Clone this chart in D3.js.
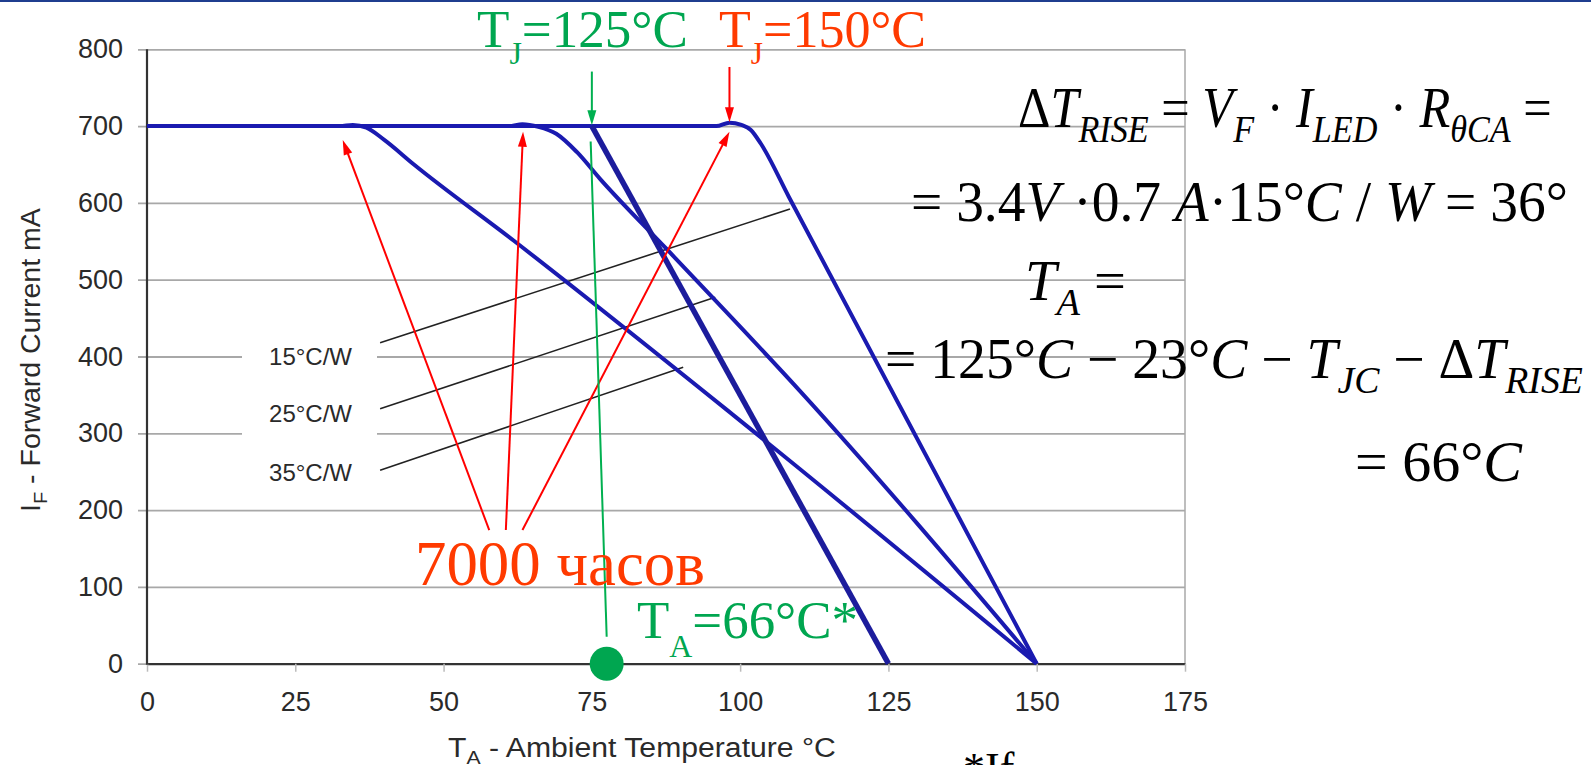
<!DOCTYPE html>
<html>
<head>
<meta charset="utf-8">
<script src="https://cdn.jsdelivr.net/npm/d3@7"></script>
<style>
  html, body { margin: 0; padding: 0; background: #fff; overflow: hidden; }
  svg { display: block; }
</style>
</head>
<body>
<script>
// derating curves, [ambient temperature °C, forward current mA]
const curveTj150R15 = [[0,700],[96,700],[98.2,704.5],[100.2,701.5],[101.8,695],[103.5,677],[108.2,608],[146,58],[150,0]];
const curveTj150R25 = [[0,700],[61,700],[63.3,702.5],[66,699],[69,690],[72.5,666],[76.3,632],[87.6,540],[110.1,355],[150,0]];
const curveTj150R35 = [[0,700],[32.5,700],[34.7,701.5],[37,698],[40,682],[45,650],[61.8,551],[98.8,324],[150,0]];
const curveTj125R15 = [[75,700],[125,0]];

const xTicks = [0, 25, 50, 75, 100, 125, 150, 175];
const yTicks = [0, 100, 200, 300, 400, 500, 600, 700, 800];

// thermal resistance labels + leader lines
const rthLabels = ["15°C/W", "25°C/W", "35°C/W"];
const rthLeaders = [
  [[39.3,418],[108.4,592]],
  [[39.3,332],[95.8,477]],
  [[39.3,252],[90.4,386]]
];

// annotation arrows (data coords)
const redArrows = [
  [[57.7,174],[33.0,682]],
  [[60.5,174],[63.4,692.7]],
  [[63.3,174],[98.2,692.7]],
  [[98.2,777],[98.2,705]]
];
const greenArrow = [[75.0,771],[75.0,701]];
const greenLine = [[74.8,680],[77.5,35]];
const operatingPoint = [77.5, 0];

const W = 1591, H = 765;
const sans = "'Liberation Sans', Arial, sans-serif";
const serif = "'Liberation Serif', 'Times New Roman', serif";
const GREEN = "#00a650", ORANGE = "#ff3a00";

const svg = d3.select("body").append("svg").attr("width", W).attr("height", H);

svg.append("rect").attr("x", 0).attr("y", 0).attr("width", W).attr("height", 2).attr("fill", "#1f3d8f");

const x = d3.scaleLinear().domain([0, 175]).range([147, 1185]);
const y = d3.scaleLinear().domain([0, 800]).range([663.7, 49.3]);

// gridlines + y labels
const yAxis = svg.append("g")
  .attr("transform", `translate(${x(175)},0)`)
  .call(d3.axisLeft(y).tickValues(yTicks).tickSize(x(175) - 138).tickPadding(15));
yAxis.select(".domain").remove();
yAxis.selectAll("line").attr("stroke", "#a8a8a8").attr("stroke-width", 1.8);
yAxis.selectAll("text").attr("font-family", sans).attr("font-size", 27).attr("fill", "#2a2a2a");

// right border
svg.append("line").attr("x1", x(175)).attr("x2", x(175)).attr("y1", y(800)).attr("y2", y(0))
  .attr("stroke", "#a8a8a8").attr("stroke-width", 1.5);

// x axis
const xAxis = svg.append("g")
  .attr("transform", `translate(0,${y(0)})`)
  .call(d3.axisBottom(x).tickValues(xTicks).tickSize(8).tickSizeOuter(0).tickPadding(20));
xAxis.select(".domain").attr("stroke", "#333").attr("stroke-width", 2.2);
xAxis.selectAll("line").attr("stroke", "#bbb").attr("stroke-width", 1.5);
xAxis.selectAll("text").attr("font-family", sans).attr("font-size", 27).attr("fill", "#2a2a2a");

// left axis line
svg.append("line").attr("x1", x(0)).attr("x2", x(0)).attr("y1", y(800)).attr("y2", y(0) + 1)
  .attr("stroke", "#333").attr("stroke-width", 2.2);

// text with sub-scripts, stretched to a target width
function richText(parts, o) {
  const g = svg.append("g");
  const t = g.append("text")
    .attr("font-family", o.family)
    .attr("font-size", o.size)
    .attr("fill", o.color)
    .style("white-space", "pre");
  let down = false;
  parts.forEach(p => {
    const s = t.append("tspan").text(p.t);
    if (p.it) s.attr("font-style", "italic");
    if (p.sub) {
      s.attr("font-size", o.subSize);
      if (!down) { s.attr("dy", o.subDy); down = true; }
    } else if (down) {
      s.attr("dy", -o.subDy); down = false;
    }
  });
  const w = t.node().getComputedTextLength();
  const sx = o.width ? o.width / w : 1;
  const rot = o.rotate ? ` rotate(${o.rotate})` : "";
  g.attr("transform", `translate(${o.x},${o.y})${rot} scale(${sx},1)`);
  return g;
}

// axis titles
richText([{t:"I"},{t:"F", sub:true},{t:" - Forward Current mA"}],
  {family: sans, size: 27, subSize: 19, subDy: 7, color: "#2a2a2a", x: 40, y: 512, width: 304, rotate: -90});
richText([{t:"T"},{t:"A", sub:true},{t:" - Ambient Temperature °C"}],
  {family: sans, size: 27, subSize: 19, subDy: 7, color: "#2a2a2a", x: 448, y: 757, width: 388});

// label box covering gridlines, labels, leader lines
svg.append("rect").attr("x", 242).attr("y", 335).attr("width", 135).attr("height", 157).attr("fill", "#fff");
svg.append("g").selectAll("text").data(rthLabels).join("text")
  .attr("x", 352)
  .attr("y", (d, i) => [365, 422, 481][i])
  .attr("text-anchor", "end")
  .attr("font-family", sans).attr("font-size", 24).attr("fill", "#2a2a2a")
  .text(d => d);
svg.append("g").selectAll("line").data(rthLeaders).join("line")
  .attr("x1", d => x(d[0][0])).attr("y1", d => y(d[0][1]))
  .attr("x2", d => x(d[1][0])).attr("y2", d => y(d[1][1]))
  .attr("stroke", "#222").attr("stroke-width", 1.6);

// derating curves
const line = d3.line().x(d => x(d[0])).y(d => y(d[1])).curve(d3.curveMonotoneX);
const curves = svg.append("g").attr("fill", "none").attr("stroke-linejoin", "round");
[curveTj150R35, curveTj150R25, curveTj150R15].forEach(c => {
  curves.append("path").attr("d", line(c)).attr("stroke", "#1a1ab0").attr("stroke-width", 4);
});
curves.append("path").attr("d", d3.line().x(d => x(d[0])).y(d => y(d[1]))(curveTj125R15))
  .attr("stroke", "#1c1c9c").attr("stroke-width", 5.5);

// annotations
const ann = svg.append("g");
function arrow(a, b, color) {
  const x1 = x(a[0]), y1 = y(a[1]), x2 = x(b[0]), y2 = y(b[1]);
  const L = Math.hypot(x2 - x1, y2 - y1), ux = (x2 - x1) / L, uy = (y2 - y1) / L;
  const hl = 15, hw = 4.5;
  const bx = x2 - ux * hl, by = y2 - uy * hl;
  ann.append("line").attr("x1", x1).attr("y1", y1).attr("x2", bx + ux * 3).attr("y2", by + uy * 3)
    .attr("stroke", color).attr("stroke-width", 2);
  ann.append("path")
    .attr("d", `M${x2},${y2}L${bx - uy * hw},${by + ux * hw}L${bx + uy * hw},${by - ux * hw}Z`)
    .attr("fill", color);
}
redArrows.forEach(d => arrow(d[0], d[1], "#ff0000"));
arrow(greenArrow[0], greenArrow[1], "#00b050");
ann.append("line")
  .attr("x1", x(greenLine[0][0])).attr("y1", y(greenLine[0][1]))
  .attr("x2", x(greenLine[1][0])).attr("y2", y(greenLine[1][1]))
  .attr("stroke", "#00b050").attr("stroke-width", 2);
ann.append("circle").attr("cx", x(operatingPoint[0])).attr("cy", y(operatingPoint[1])).attr("r", 17)
  .attr("fill", GREEN);

// big labels
richText([{t:"T"},{t:"J", sub:true},{t:"=125°C"}],
  {family: serif, size: 53, subSize: 32, subDy: 17, color: GREEN, x: 477, y: 47, width: 211});
richText([{t:"T"},{t:"J", sub:true},{t:"=150°C"}],
  {family: serif, size: 53, subSize: 32, subDy: 17, color: ORANGE, x: 719, y: 47, width: 207});
richText([{t:"T"},{t:"A", sub:true},{t:"=66°C*"}],
  {family: serif, size: 53, subSize: 32, subDy: 19, color: GREEN, x: 637, y: 638, width: 221});
richText([{t:"7000 часов"}],
  {family: serif, size: 63, color: ORANGE, x: 415, y: 585, width: 290});

// formulas
const f = {family: serif, size: 56, subSize: 38, subDy: 15, color: "#000"};
richText([{t:"Δ"},{t:"T", it:true},{t:"RISE", it:true, sub:true},{t:" = "},{t:"V", it:true},{t:"F", it:true, sub:true},
  {t:" · "},{t:"I", it:true},{t:"LED", it:true, sub:true},{t:" · "},{t:"R", it:true},{t:"θCA", it:true, sub:true},{t:" ="}],
  Object.assign({}, f, {x: 1018, y: 127, width: 534}));
richText([{t:"= 3.4"},{t:"V", it:true},{t:" ·0.7 "},{t:"A", it:true},{t:"·15°"},{t:"C", it:true},{t:" / "},
  {t:"W", it:true},{t:" = 36°"}],
  Object.assign({}, f, {x: 911, y: 221, width: 657}));
richText([{t:"T", it:true},{t:"A", it:true, sub:true},{t:" ="}],
  Object.assign({}, f, {x: 1025, y: 300, width: 101}));
richText([{t:"= 125°"},{t:"C", it:true},{t:" − 23°"},{t:"C", it:true},{t:" − "},{t:"T", it:true},{t:"JC", it:true, sub:true},
  {t:" − Δ"},{t:"T", it:true},{t:"RISE", it:true, sub:true}],
  Object.assign({}, f, {x: 885, y: 378, width: 698}));
richText([{t:"= 66°"},{t:"C", it:true}],
  Object.assign({}, f, {x: 1355, y: 481, width: 167}));

// footnote, cut by the bottom edge
svg.append("text").attr("x", 963).attr("y", 783).attr("font-family", serif).attr("font-size", 44)
  .attr("fill", "#000").text("*If");
</script>
</body>
</html>
